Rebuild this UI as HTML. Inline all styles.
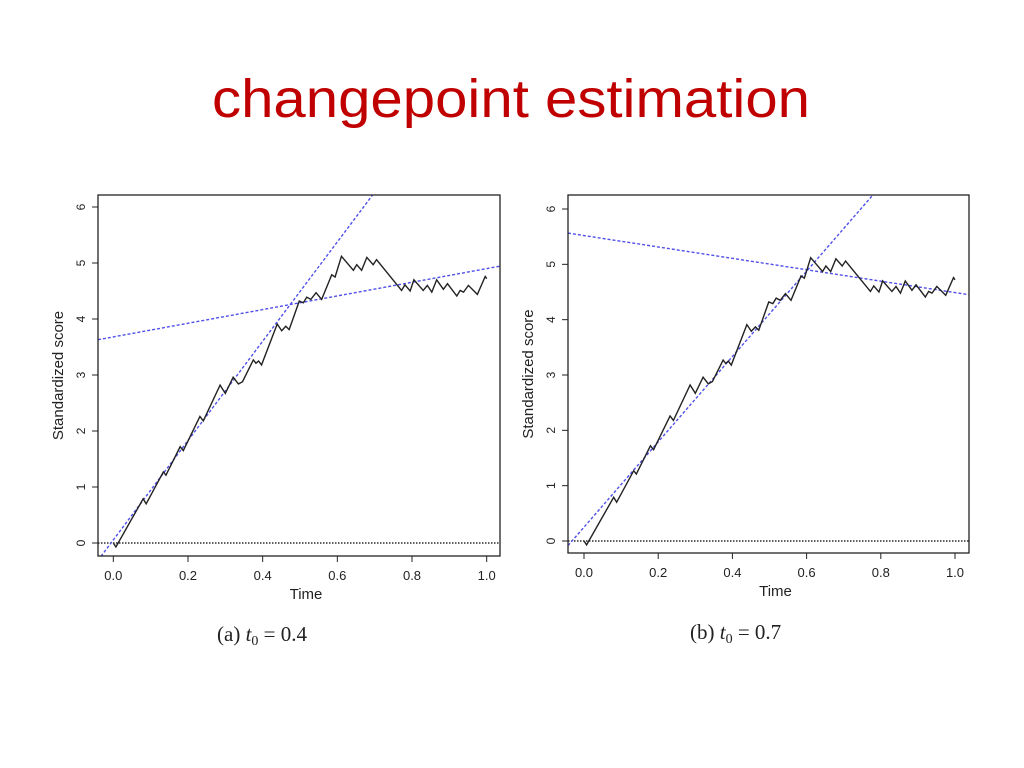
<!DOCTYPE html>
<html><head><meta charset="utf-8"><style>
html,body{margin:0;padding:0;background:#fff;width:1024px;height:768px;overflow:hidden}
svg{position:absolute;left:0;top:0}
</style></head><body>
<svg id="s" width="1024" height="768" xmlns="http://www.w3.org/2000/svg">
<text x="511" y="117" text-anchor="middle" font-family="Liberation Sans, sans-serif" font-size="54" fill="#c00000" textLength="598" lengthAdjust="spacingAndGlyphs">changepoint estimation</text>
<text x="217" y="641" font-family="Liberation Serif, serif" font-size="21" fill="#222">(a) <tspan font-style="italic">t</tspan><tspan font-size="14" dy="4">0</tspan><tspan dy="-4"> = 0.4</tspan></text>
<text x="690" y="639" font-family="Liberation Serif, serif" font-size="21" fill="#222">(b) <tspan font-style="italic">t</tspan><tspan font-size="14" dy="4">0</tspan><tspan dy="-4"> = 0.7</tspan></text>
</svg>
<script>
const times = [0,0.007,0.08,0.088,0.134,0.141,0.179,0.1875,0.232,0.241,0.286,0.3,0.321,0.335,0.346,0.375,0.382,0.389,0.397,0.439,0.451,0.462,0.471,0.498,0.509,0.518,0.529,0.543,0.558,0.585,0.594,0.611,0.643,0.652,0.665,0.679,0.696,0.705,0.772,0.781,0.795,0.805,0.83,0.841,0.853,0.866,0.884,0.895,0.92,0.929,0.938,0.951,0.975,0.996,1.0];
const scores = [0,-0.07,0.79,0.70,1.27,1.21,1.72,1.65,2.26,2.18,2.82,2.67,2.96,2.84,2.88,3.27,3.21,3.25,3.18,3.91,3.79,3.87,3.81,4.32,4.29,4.39,4.35,4.47,4.35,4.79,4.75,5.12,4.87,4.97,4.87,5.10,4.97,5.06,4.51,4.61,4.50,4.70,4.51,4.60,4.48,4.70,4.53,4.63,4.41,4.51,4.48,4.60,4.44,4.76,4.72];
const xTicks = ["0.0","0.2","0.4","0.6","0.8","1.0"];
const yTicks = ["0","1","2","3","4","5","6"];
const fitA = [[0.055, 8.87],[3.68, 1.22]];
const fitB = [[0.25, 7.71],[5.52, -1.03]];
const NS='http://www.w3.org/2000/svg';
const svg=document.getElementById('s');
function mk(tag,attrs,parent){const e=document.createElementNS(NS,tag);for(const k in attrs)e.setAttribute(k,attrs[k]);(parent||svg).appendChild(e);return e;}
function chart(id,L,R,T,B,x0,x1,y0,y6,fits){
  const g=mk('g',{});
  
  
  const xs=t=>x0+(x1-x0)*t, ys=v=>y0+(y6-y0)*v/6;
  const tmin=(L-x0)/(x1-x0), tmax=(R-x0)/(x1-x0);
  const clip=mk('clipPath',{id:'c'+id},g);mk('rect',{x:L,y:T,width:R-L,height:B-T},clip);
  const h=mk('line',{x1:L,x2:R,y1:ys(0),y2:ys(0),stroke:'#000','stroke-width':1.2,'stroke-dasharray':'1.5 1.5'},g);
  
  
  fits.forEach((f,i)=>{const l=mk('line',{x1:xs(tmin),y1:ys(f[0]+f[1]*tmin),x2:xs(tmax),y2:ys(f[0]+f[1]*tmax),stroke:'#5050e8','stroke-width':1.4,'stroke-dasharray':'3 2','clip-path':'url(#c'+id+')'},g);
    
    });
  const p=mk('polyline',{points:times.map((t,i)=>xs(t)+','+ys(scores[i])).join(' '),fill:'none',stroke:'#222','stroke-width':1.4},g);
  
  
  const box=mk('rect',{x:L,y:T,width:R-L,height:B-T,fill:'none',stroke:'#222','stroke-width':1.3},g);
  
  
  xTicks.forEach(s=>{const x=xs(parseFloat(s));mk('line',{x1:x,x2:x,y1:B,y2:B+6,stroke:'#222'},g);
    const t=mk('text',{x:x,y:B+24,'text-anchor':'middle','font-family':'Liberation Sans, sans-serif','font-size':13,fill:'#222'},g);t.textContent=s;
    
    });
  yTicks.forEach(s=>{const y=ys(parseFloat(s));mk('line',{x1:L-6,x2:L,y1:y,y2:y,stroke:'#222'},g);
    const t=mk('text',{x:L-13,y:y,'text-anchor':'middle','font-family':'Liberation Sans, sans-serif','font-size':12,fill:'#222',transform:'rotate(-90 '+(L-13)+' '+y+')'},g);t.textContent=s;
    
    });
  const xt=mk('text',{x:(L+R)/2+7,y:B+43,'text-anchor':'middle','font-family':'Liberation Sans, sans-serif','font-size':15,fill:'#222'},g);xt.textContent='Time';
  
  
  const cy=(T+B)/2;
  const yt=mk('text',{x:L-35,y:cy,'text-anchor':'middle','font-family':'Liberation Sans, sans-serif','font-size':15,fill:'#222',transform:'rotate(-90 '+(L-35)+' '+cy+')'},g);yt.textContent='Standardized score';
  
  
}
chart('a',98,500,195,556,113.3,486.7,543,207,fitA);
chart('b',568,969,195,553,584,955,541,209,fitB);
</script>
</body></html>
